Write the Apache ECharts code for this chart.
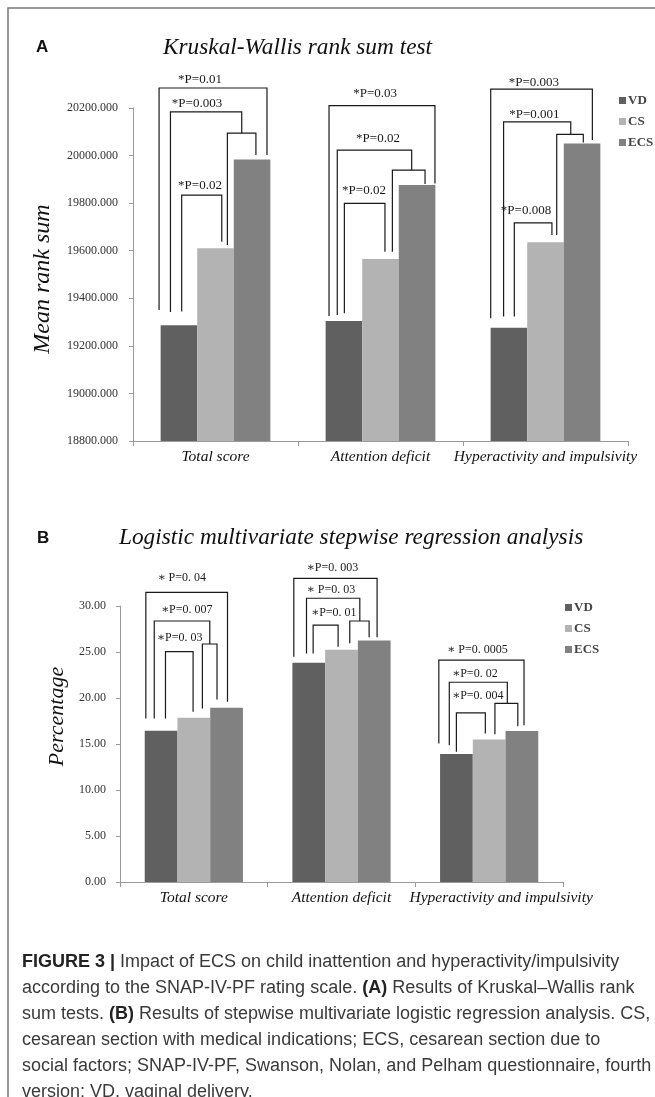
<!DOCTYPE html>
<html>
<head>
<meta charset="utf-8">
<script src="https://cdn.jsdelivr.net/npm/echarts@6/dist/echarts.min.js"></script>
<style>
  html, body { margin: 0; padding: 0; background: #fff; }
  #main { width: 655px; height: 1097px; }
</style>
</head>
<body>
<div id="main"></div>
<script>
// categories and values
var categories = ['Total score', 'Attention deficit', 'Hyperactivity and impulsivity'];
var groups = ['VD', 'CS', 'ECS'];

// A: mean rank sum
var rankVD = [19287, 19305, 19276];
var rankCS = [19610, 19565, 19636];
var rankECS = [19983, 19876, 20051];
var rankAxis = { min: 18800, max: 20200, step: 200 };

// B: percentage
var pctVD = [16.43, 23.83, 13.90];
var pctCS = [17.85, 25.25, 15.50];
var pctECS = [18.93, 26.25, 16.40];
var pctAxis = { min: 0, max: 30, step: 5 };

// significance brackets: legs are [offset in category widths, value]
var bracketsA = [
  { cat: 0, label: '*P=0.01', lo: -0.094, lv: 20318,
    legs: [[[-0.342, 19351], [-0.342, 20284], [0.312, 20284], [0.312, 20002]]] },
  { cat: 0, label: '*P=0.003', lo: -0.112, lv: 20217,
    legs: [[[-0.273, 19342], [-0.273, 20184], [0.159, 20184], [0.159, 20094]],
           [[0.072, 19624], [0.072, 20094], [0.245, 20094], [0.245, 20002]]] },
  { cat: 0, label: '*P=0.02', lo: -0.094, lv: 19872,
    legs: [[[-0.205, 19344], [-0.205, 19834], [0.038, 19834], [0.038, 19638]]] },
  { cat: 1, label: '*P=0.03', lo: -0.033, lv: 20262,
    legs: [[[-0.312, 19326], [-0.312, 20210], [0.330, 20210], [0.330, 19883]]] },
  { cat: 1, label: '*P=0.02', lo: -0.015, lv: 20070,
    legs: [[[-0.262, 19330], [-0.262, 20023], [0.189, 20023], [0.189, 19939]],
           [[0.072, 19596], [0.072, 19939], [0.270, 19939], [0.270, 19880]]] },
  { cat: 1, label: '*P=0.02', lo: -0.100, lv: 19851,
    legs: [[[-0.219, 19337], [-0.219, 19799], [0.027, 19799], [0.027, 19596]]] },
  { cat: 2, label: '*P=0.003', lo: -0.070, lv: 20306,
    legs: [[[-0.332, 19316], [-0.332, 20279], [0.284, 20279], [0.284, 20065]]] },
  { cat: 2, label: '*P=0.001', lo: -0.067, lv: 20171,
    legs: [[[-0.254, 19323], [-0.254, 20142], [0.153, 20142], [0.153, 20089]],
           [[0.068, 19666], [0.068, 20089], [0.229, 20089], [0.229, 20055]]] },
  { cat: 2, label: '*P=0.008', lo: -0.118, lv: 19767,
    legs: [[[-0.189, 19323], [-0.189, 19717], [0.039, 19717], [0.039, 19666]]] }
];

var bracketsB = [
  { cat: 0, label: '\u2217 P=0. 04', lo: -0.082, lv: 33.01,
    legs: [[[-0.325, 17.78], [-0.325, 31.49], [0.228, 31.49], [0.228, 19.59]]] },
  { cat: 0, label: '\u2217P=0. 007', lo: -0.048, lv: 29.56,
    legs: [[[-0.268, 17.78], [-0.268, 28.37], [0.108, 28.37], [0.108, 25.87]],
           [[0.058, 18.87], [0.058, 25.87], [0.157, 25.87], [0.157, 19.85]]] },
  { cat: 0, label: '\u2217P=0. 03', lo: -0.096, lv: 26.59,
    legs: [[[-0.192, 17.78], [-0.192, 25.03], [-0.005, 25.03], [-0.005, 18.50]]] },
  { cat: 1, label: '\u2217P=0. 003', lo: -0.062, lv: 34.10,
    legs: [[[-0.323, 24.48], [-0.323, 33.01], [0.241, 33.01], [0.241, 26.59]]] },
  { cat: 1, label: '\u2217 P=0. 03', lo: -0.072, lv: 31.74,
    legs: [[[-0.237, 24.85], [-0.237, 30.84], [0.124, 30.84], [0.124, 28.37]],
           [[0.056, 25.94], [0.056, 28.37], [0.187, 28.37], [0.187, 26.59]]] },
  { cat: 1, label: '\u2217P=0. 01', lo: -0.052, lv: 29.27,
    legs: [[[-0.192, 24.85], [-0.192, 27.93], [-0.023, 27.93], [-0.023, 25.57]]] },
  { cat: 2, label: '\u2217 P=0. 0005', lo: -0.080, lv: 25.21,
    legs: [[[-0.341, 15.06], [-0.341, 24.12], [0.236, 24.12], [0.236, 17.05]]] },
  { cat: 2, label: '\u2217P=0. 02', lo: -0.097, lv: 22.68,
    legs: [[[-0.270, 14.87], [-0.270, 21.71], [0.123, 21.71], [0.123, 19.41]],
           [[0.039, 16.07], [0.039, 19.41], [0.194, 19.41], [0.194, 16.94]]] },
  { cat: 2, label: '\u2217P=0. 004', lo: -0.077, lv: 20.21,
    legs: [[[-0.222, 14.15], [-0.222, 18.39], [-0.026, 18.39], [-0.026, 16.15]]] }
];

var captionLines = [
  '{b|FIGURE 3 |} Impact of ECS on child inattention and hyperactivity/impulsivity',
  'according to the SNAP-IV-PF rating scale. {b|(A)} Results of Kruskal\u2013Wallis rank',
  'sum tests. {b|(B)} Results of stepwise multivariate logistic regression analysis. CS,',
  'cesarean section with medical indications; ECS, cesarean section due to',
  'social factors; SNAP-IV-PF, Swanson, Nolan, and Pelham questionnaire, fourth',
  'version; VD, vaginal delivery.'
];

var colors = ['#606060', '#b3b3b3', '#818181'];
var serif = '"Liberation Serif", "Times New Roman", "DejaVu Serif", serif';
var sans = '"Liberation Sans", Arial, sans-serif';

window.onload = function () {
  var myChart = echarts.init(document.getElementById('main'));

  function bracketRender(list, fontSize) {
    return function (params, api) {
      var b = list[params.dataIndex];
      var band = api.size([1, 0])[0];
      var children = b.legs.map(function (leg) {
        return {
          type: 'polyline',
          shape: { points: leg.map(function (p) {
            var c = api.coord([b.cat, p[1]]);
            return [c[0] + p[0] * band, c[1]];
          }) },
          style: { stroke: '#1a1a1a', lineWidth: 1.2, fill: null }
        };
      });
      var lc = api.coord([b.cat, b.lv]);
      children.push({
        type: 'text',
        x: lc[0] + b.lo * band,
        y: lc[1],
        style: {
          text: b.label, fill: '#1a1a1a',
          font: fontSize + 'px ' + serif,
          align: 'center', verticalAlign: 'middle'
        }
      });
      return { type: 'group', children: children };
    };
  }

  function valueAxis(idx, spec, digits, name, nameGap, namePad) {
    return {
      type: 'value', gridIndex: idx,
      min: spec.min, max: spec.max, interval: spec.step,
      name: name, nameLocation: 'middle', nameGap: nameGap,
      nameTextStyle: { fontFamily: serif, fontStyle: 'italic', fontSize: idx === 0 ? 24 : 22, color: '#111', padding: namePad },
      axisLine: { show: true, lineStyle: { color: '#9a9a9a', width: 1 } },
      axisTick: { show: true, length: 4, lineStyle: { color: '#9a9a9a' } },
      splitLine: { show: false },
      axisLabel: {
        margin: idx === 0 ? 15 : 14,
        fontFamily: serif, fontSize: 12, color: '#333',
        formatter: function (v) { return v.toFixed(digits); }
      }
    };
  }

  function catAxis(idx) {
    return {
      type: 'category', gridIndex: idx, data: categories,
      axisLine: { lineStyle: { color: '#9a9a9a', width: 1 } },
      axisTick: { show: true, length: 5, interval: 0, lineStyle: { color: '#9a9a9a' } },
      axisLabel: {
        interval: 0, margin: 8,
        fontFamily: serif, fontStyle: 'italic', fontSize: 15.5, color: '#111',
        formatter: function (v, i) {
          return (idx === 1 && i === 2) ? '{h|' + v + '}' : v;
        },
        rich: { h: { fontFamily: serif, fontStyle: 'italic', fontSize: 15.5, color: '#111', padding: [0, 0, 0, 24] } }
      }
    };
  }

  function bars(idx, name, values, color) {
    return {
      name: name, type: 'bar', xAxisIndex: idx, yAxisIndex: idx,
      data: values, barGap: '0%', barCategoryGap: '33.5%',
      itemStyle: { color: color }, silent: true
    };
  }

  function brackets(idx, list, fontSize) {
    return {
      type: 'custom', xAxisIndex: idx, yAxisIndex: idx, clip: false, silent: true, z: 5,
      renderItem: bracketRender(list, fontSize),
      data: list.map(function (b) { return [b.cat, b.lv]; })
    };
  }

  function legend(left, top) {
    return {
      data: groups, orient: 'vertical', left: left, top: top,
      icon: 'rect', itemWidth: 7, itemHeight: 7, itemGap: 8,
      selectedMode: false,
      textStyle: { fontFamily: serif, fontSize: 13, fontWeight: 'bold', color: '#444', padding: [0, 0, 0, -3] }
    };
  }

  var option = {
    animation: false,
    title: [
      { text: 'A', left: 36, top: 39, padding: 0, textStyle: { fontFamily: sans, fontWeight: 'bold', fontSize: 17, color: '#111' } },
      { text: 'Kruskal-Wallis rank sum test', left: 163, top: 36, padding: 0, textStyle: { fontFamily: serif, fontStyle: 'italic', fontWeight: 'normal', fontSize: 23.3, color: '#111' } },
      { text: 'B', left: 37, top: 530, padding: 0, textStyle: { fontFamily: sans, fontWeight: 'bold', fontSize: 17, color: '#111' } },
      { text: 'Logistic multivariate stepwise regression analysis', left: 119, top: 526, padding: 0, textStyle: { fontFamily: serif, fontStyle: 'italic', fontWeight: 'normal', fontSize: 23.3, color: '#111' } }
    ],
    legend: [legend(614, 89), legend(560, 596)],
    grid: [
      { left: 133, top: 108, width: 495, height: 333 },
      { left: 120, top: 606, width: 443, height: 276 }
    ],
    xAxis: [catAxis(0), catAxis(1)],
    yAxis: [
      valueAxis(0, rankAxis, 3, 'Mean rank sum', 78, [0, 9, 0, 0]),
      valueAxis(1, pctAxis, 2, 'Percentage', 52, [0, 0, 0, 55])
    ],
    series: [
      bars(0, 'VD', rankVD, colors[0]),
      bars(0, 'CS', rankCS, colors[1]),
      bars(0, 'ECS', rankECS, colors[2]),
      brackets(0, bracketsA, 13),
      bars(1, 'VD', pctVD, colors[0]),
      bars(1, 'CS', pctCS, colors[1]),
      bars(1, 'ECS', pctECS, colors[2]),
      brackets(1, bracketsB, 12)
    ],
    graphic: [
      // figure frame
      { type: 'polyline', silent: true, shape: { points: [[8, 1097], [8, 8], [655, 8]] },
        style: { stroke: '#777', lineWidth: 1.5, fill: null } },
      { type: 'text', left: 22, top: 949, silent: true,
        style: {
          text: captionLines.join('\n'),
          font: '18px ' + sans, fill: '#3a3a3a', lineHeight: 26,
          rich: { b: { fontFamily: sans, fontSize: 18, fontWeight: 'bold', fill: '#222', lineHeight: 26 } }
        } }
    ]
  };
  myChart.setOption(option);

  window.onresize = function () {
    myChart.resize();
  };
};
</script>
</body>
</html>
